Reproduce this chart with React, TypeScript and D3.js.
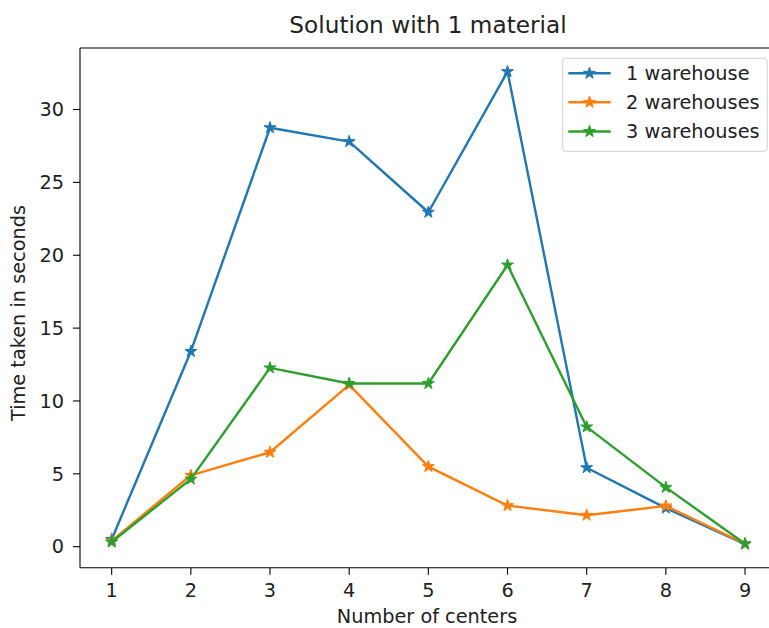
import React from "react";
import * as d3 from "d3";

const centers = [1, 2, 3, 4, 5, 6, 7, 8, 9];
const oneWarehouse = [0.5, 13.4, 28.75, 27.8, 22.95, 32.6, 5.42, 2.65, 0.18];
const twoWarehouses = [0.4, 4.9, 6.48, 11.1, 5.5, 2.82, 2.16, 2.8, 0.2];
const threeWarehouses = [0.32, 4.64, 12.27, 11.2, 11.2, 19.33, 8.22, 4.07, 0.2];
const seriesNames = ["1 warehouse", "2 warehouses", "3 warehouses"];
const seriesColors = ["#1f77b4", "#ff7f0e", "#2ca02c"];
const yTicks = [0, 5, 10, 15, 20, 25, 30];

const W = 769;
const H = 628;
const left = 80;
const right = 776.7;
const top = 48;
const bottom = 567.7;
const FONT = "DejaVu Sans, sans-serif";
const FS = 19.3;

export default function App() {
  const series = [oneWarehouse, twoWarehouses, threeWarehouses];
  const all = series.flat();
  const mn = d3.min(all) as number;
  const mx = d3.max(all) as number;
  const pad = (mx - mn) * 0.05;
  const x = d3.scaleLinear().domain([0.6, 9.4]).range([left, right]);
  const y = d3.scaleLinear().domain([mn - pad, mx + pad]).range([bottom, top]);
  const line = d3
    .line<number>()
    .x((_, i) => x(centers[i]))
    .y((d) => y(d));
  const star = d3.symbol().type(d3.symbolStar).size(44)() as string;

  const legX = 562.7;
  const legY = 58.3;
  const rowYs = [73.3, 102.3, 131.5];

  return (
    <div style={{ position: "absolute", left: 0, top: 0 }}>
      <svg width={W} height={H} style={{ display: "block" }}>
        <rect width={W} height={H} fill="white" />
        <text x={428} y={33} fontFamily={FONT} fontSize={23.2} textAnchor="middle" fill="#222">
          Solution with 1 material
        </text>
        {series.map((s, si) => (
          <g key={si}>
            <path d={line(s) as string} fill="none" stroke={seriesColors[si]} strokeWidth={2.4} strokeLinejoin="round" />
            {s.map((v, i) => (
              <path
                key={i}
                d={star}
                transform={`translate(${x(centers[i])},${y(v)})`}
                fill={seriesColors[si]}
                stroke={seriesColors[si]}
                strokeWidth={1}
              />
            ))}
          </g>
        ))}
        {/* spines */}
        <line x1={left} x2={left} y1={top} y2={bottom} stroke="#000" strokeWidth={1.1} />
        <line x1={left} x2={right} y1={top} y2={top} stroke="#000" strokeWidth={1.1} />
        <line x1={left} x2={right} y1={bottom} y2={bottom} stroke="#000" strokeWidth={1.1} />
        <line x1={right} x2={right} y1={top} y2={bottom} stroke="#000" strokeWidth={1.1} />
        {/* x ticks */}
        {centers.map((c) => (
          <g key={c}>
            <line x1={x(c)} x2={x(c)} y1={bottom} y2={bottom + 7} stroke="#000" strokeWidth={1.1} />
            <text x={x(c)} y={597} fontFamily={FONT} fontSize={FS} textAnchor="middle" fill="#222">
              {c}
            </text>
          </g>
        ))}
        {/* y ticks */}
        {yTicks.map((t) => (
          <g key={t}>
            <line x1={left - 7} x2={left} y1={y(t)} y2={y(t)} stroke="#000" strokeWidth={1.1} />
            <text x={64} y={y(t) + 6.7} fontFamily={FONT} fontSize={FS} textAnchor="end" fill="#222">
              {t}
            </text>
          </g>
        ))}
        <text x={427} y={623} fontFamily={FONT} fontSize={FS} textAnchor="middle" fill="#222">
          Number of centers
        </text>
        <text
          transform={`translate(25,313) rotate(-90)`}
          fontFamily={FONT}
          fontSize={FS}
          textAnchor="middle"
          fill="#222"
        >
          Time taken in seconds
        </text>
        {/* legend */}
        <rect x={legX} y={legY} width={204.5} height={93} rx={3} fill="white" fillOpacity={0.8} stroke="#d0d0d0" strokeWidth={1} />
        {seriesNames.map((n, i) => (
          <g key={n}>
            <line x1={568.3} x2={610.7} y1={rowYs[i]} y2={rowYs[i]} stroke={seriesColors[i]} strokeWidth={2.4} />
            <path d={star} transform={`translate(589.5,${rowYs[i]})`} fill={seriesColors[i]} stroke={seriesColors[i]} strokeWidth={1} />
            <text x={626} y={rowYs[i] + 6.5} fontFamily={FONT} fontSize={FS} fill="#222">
              {n}
            </text>
          </g>
        ))}
      </svg>
    </div>
  );
}
